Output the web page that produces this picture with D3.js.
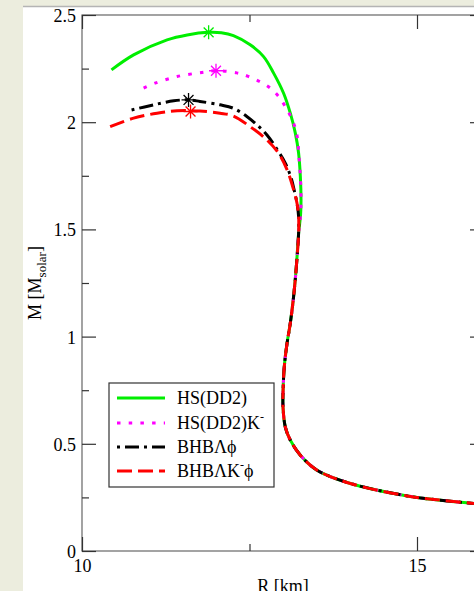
<!DOCTYPE html>
<html>
<head>
<meta charset="utf-8">
<script src="https://cdn.jsdelivr.net/npm/d3@7"></script>
<style>
  body { margin: 0; background: #ecedde; }
  text { font-family: "Liberation Serif", "Times New Roman", serif; }
</style>
</head>
<body>
<div class="chart"></div>
<script>
// mass-radius curves, R in km, M in solar masses
// shared low-mass branch (all four models coincide here)
var lowBranch = [
  [13.233, 1.482], [13.199, 1.326], [13.158, 1.186], [13.109, 1.062],
  [13.060, 0.968], [13.019, 0.859], [13.000, 0.735], [13.000, 0.672],
  [13.034, 0.579], [13.109, 0.517], [13.259, 0.447], [13.508, 0.377],
  [14.006, 0.315], [14.854, 0.257], [15.351, 0.237], [15.860, 0.221],
  [16.300, 0.208]
];

var hsDD2 = [
  [10.44, 2.244], [10.77, 2.314], [11.27, 2.384], [11.57, 2.407], [11.89, 2.419],
  [12.08, 2.417], [12.26, 2.404], [12.51, 2.361], [12.71, 2.306], [12.86, 2.229],
  [13.009, 2.135], [13.109, 2.042], [13.184, 1.949], [13.233, 1.855], [13.259, 1.746],
  [13.269, 1.637], [13.262, 1.567]
];

var hsDD2K = [
  [10.92, 2.159], [11.09, 2.182], [11.42, 2.213], [11.79, 2.232], [12.00, 2.240],
  [12.31, 2.230], [12.48, 2.214], [12.65, 2.190], [12.81, 2.159], [12.934, 2.120],
  [13.034, 2.073], [13.120, 2.023], [13.184, 1.972], [13.218, 1.921], [13.233, 1.863],
  [13.259, 1.746], [13.269, 1.637], [13.262, 1.567]
];

var bhbL = [
  [10.74, 2.057], [11.07, 2.081], [11.37, 2.100], [11.59, 2.104], [11.76, 2.097],
  [12.06, 2.081], [12.26, 2.065], [12.46, 2.027], [12.61, 1.988], [12.761, 1.940],
  [12.910, 1.874], [13.034, 1.809], [13.120, 1.741], [13.170, 1.679], [13.209, 1.622],
  [13.233, 1.559]
];

var bhbLK = [
  [10.42, 1.979], [10.77, 2.019], [11.12, 2.042], [11.42, 2.053], [11.76, 2.052],
  [12.06, 2.042], [12.26, 2.029], [12.51, 1.979], [12.761, 1.917], [12.934, 1.855],
  [13.060, 1.779], [13.158, 1.685], [13.209, 1.622], [13.233, 1.559]
];

// maximum-mass stars
var maxPoints = [
  { R: 11.89, M: 2.419, color: "#00ee00" },
  { R: 12.00, M: 2.240, color: "#ff00ff" },
  { R: 11.59, M: 2.104, color: "#000000" },
  { R: 11.62, M: 2.050, color: "#ff0000" }
];

var seriesNames = ["HS(DD2)", "HS(DD2)K", "BHB\u039b\u03d5", "BHB\u039bK"];

var xMajor = [10, 15];
var xMinor = [12.5];
var yMajor = [0, 0.5, 1, 1.5, 2, 2.5];
var yMinor = [0.25, 0.75, 1.25, 1.75, 2.25];

var svgWidth = 474;
var svgHeight = 591;
var margin = { top: 15, left: 82 };
var width = 402;
var height = 536;

var svg = d3.select(".chart")
  .append("svg")
  .attr("width", svgWidth)
  .attr("height", svgHeight);

// page background pieces
svg.append("rect").attr("width", svgWidth).attr("height", svgHeight).attr("fill", "#ecedde");
svg.append("rect").attr("x", 23).attr("y", 7).attr("width", svgWidth).attr("height", svgHeight).attr("fill", "#fff");
svg.append("line").attr("x1", 23).attr("x2", svgWidth).attr("y1", 6.5).attr("y2", 6.5)
  .attr("stroke", "#b4b4b4").attr("stroke-width", 1.5);

var chart = svg.append("g")
  .attr("transform", "translate(" + margin.left + "," + margin.top + ")");

var x = d3.scaleLinear().domain([10, 16]).range([0, width]);
var y = d3.scaleLinear().domain([0, 2.5]).range([height, 0]);

var fmt = function(d) { return String(d); };

// frame
chart.append("rect")
  .attr("width", width).attr("height", height)
  .attr("fill", "none").attr("stroke", "#666").attr("stroke-width", 1.2);

function styleAxis(g) {
  g.select(".domain").remove();
  g.selectAll("line").attr("stroke", "#333").attr("stroke-width", 1.2);
  g.selectAll("text").attr("fill", "#000").style("font-size", "18px")
    .style("font-family", "'Liberation Serif', serif");
}

// bottom axis
chart.append("g").attr("transform", "translate(0," + height + ")")
  .call(d3.axisBottom(x).tickValues(xMajor).tickFormat(fmt).tickSize(-14).tickPadding(0))
  .call(styleAxis)
  .selectAll("text").attr("y", 21).attr("dy", 0);
chart.append("g").attr("transform", "translate(0," + height + ")")
  .call(d3.axisBottom(x).tickValues(xMinor).tickFormat("").tickSize(-7))
  .call(styleAxis);

// top axis
chart.append("g")
  .call(d3.axisTop(x).tickValues(xMajor).tickFormat("").tickSize(-14))
  .call(styleAxis);
chart.append("g")
  .call(d3.axisTop(x).tickValues(xMinor).tickFormat("").tickSize(-7))
  .call(styleAxis);

// left axis
chart.append("g")
  .call(d3.axisLeft(y).tickValues(yMajor).tickFormat(fmt).tickSize(-14).tickPadding(6))
  .call(styleAxis)
  .selectAll("text").attr("dy", "0.36em");
chart.append("g")
  .call(d3.axisLeft(y).tickValues(yMinor).tickFormat("").tickSize(-7))
  .call(styleAxis);

// right axis
chart.append("g").attr("transform", "translate(" + width + ",0)")
  .call(d3.axisRight(y).tickValues(yMajor).tickFormat("").tickSize(-14))
  .call(styleAxis);
chart.append("g").attr("transform", "translate(" + width + ",0)")
  .call(d3.axisRight(y).tickValues(yMinor).tickFormat("").tickSize(-7))
  .call(styleAxis);

// curves
var line = d3.line()
  .x(function(d) { return x(d[0]); })
  .y(function(d) { return y(d[1]); })
  .curve(d3.curveCatmullRom.alpha(0.5));

var styles = [
  { data: hsDD2, color: "#00ee00", dash: null },
  { data: hsDD2K, color: "#ff00ff", dash: "3.5,8.2" },
  { data: bhbL, color: "#000000", dash: "3,5,14,5" },
  { data: bhbLK, color: "#ff0000", dash: "15,6" }
];

styles.forEach(function(s) {
  chart.append("path")
    .datum(s.data.concat(lowBranch))
    .attr("d", line)
    .attr("fill", "none")
    .attr("stroke", s.color)
    .attr("stroke-width", 3)
    .attr("stroke-dasharray", s.dash)
    .attr("stroke-linejoin", "round");
});

// asterisk markers at the maximum mass
var r = 7;
var arms = [];
for (var i = 0; i < 4; i++) {
  var a = i * Math.PI / 4;
  arms.push("M" + (-r * Math.cos(a)) + "," + (-r * Math.sin(a)) + "L" + (r * Math.cos(a)) + "," + (r * Math.sin(a)));
}
chart.selectAll(".star")
  .data(maxPoints)
  .enter()
  .append("path")
  .attr("class", "star")
  .attr("transform", function(d) { return "translate(" + x(d.R) + "," + y(d.M) + ")"; })
  .attr("d", arms.join(""))
  .attr("stroke", function(d) { return d.color; })
  .attr("stroke-width", 1.3)
  .attr("fill", "none");

// legend
var legend = svg.append("g").attr("transform", "translate(109,383)");
legend.append("rect")
  .attr("width", 165).attr("height", 104)
  .attr("fill", "#fff").attr("stroke", "#333").attr("stroke-width", 1.2);

var rowY = [15, 40, 64, 88];
styles.forEach(function(s, i) {
  legend.append("line")
    .attr("x1", 8).attr("x2", 56)
    .attr("y1", rowY[i]).attr("y2", rowY[i])
    .attr("stroke", s.color).attr("stroke-width", 3)
    .attr("stroke-dasharray", s.dash);
  var t = legend.append("text")
    .attr("x", 68).attr("y", rowY[i] + 6)
    .style("font-size", "18px")
    .text(seriesNames[i]);
  if (i === 1 || i === 3) {
    t.append("tspan").attr("dy", -8).style("font-size", "12px").text("-");
    t.append("tspan").attr("dy", 8).text(i === 3 ? "\u03d5" : "");
  }
});

// axis labels
svg.append("text")
  .attr("x", margin.left + width / 2).attr("y", 592)
  .attr("text-anchor", "middle")
  .style("font-size", "18px")
  .text("R [km]");

var yl = svg.append("text")
  .attr("transform", "translate(41," + (margin.top + height / 2) + ") rotate(-90)")
  .attr("text-anchor", "middle")
  .style("font-size", "18px");
yl.append("tspan").text("M [M");
yl.append("tspan").attr("dy", 5).style("font-size", "13px").text("solar");
yl.append("tspan").attr("dy", -5).text("]");
</script>
</body>
</html>
